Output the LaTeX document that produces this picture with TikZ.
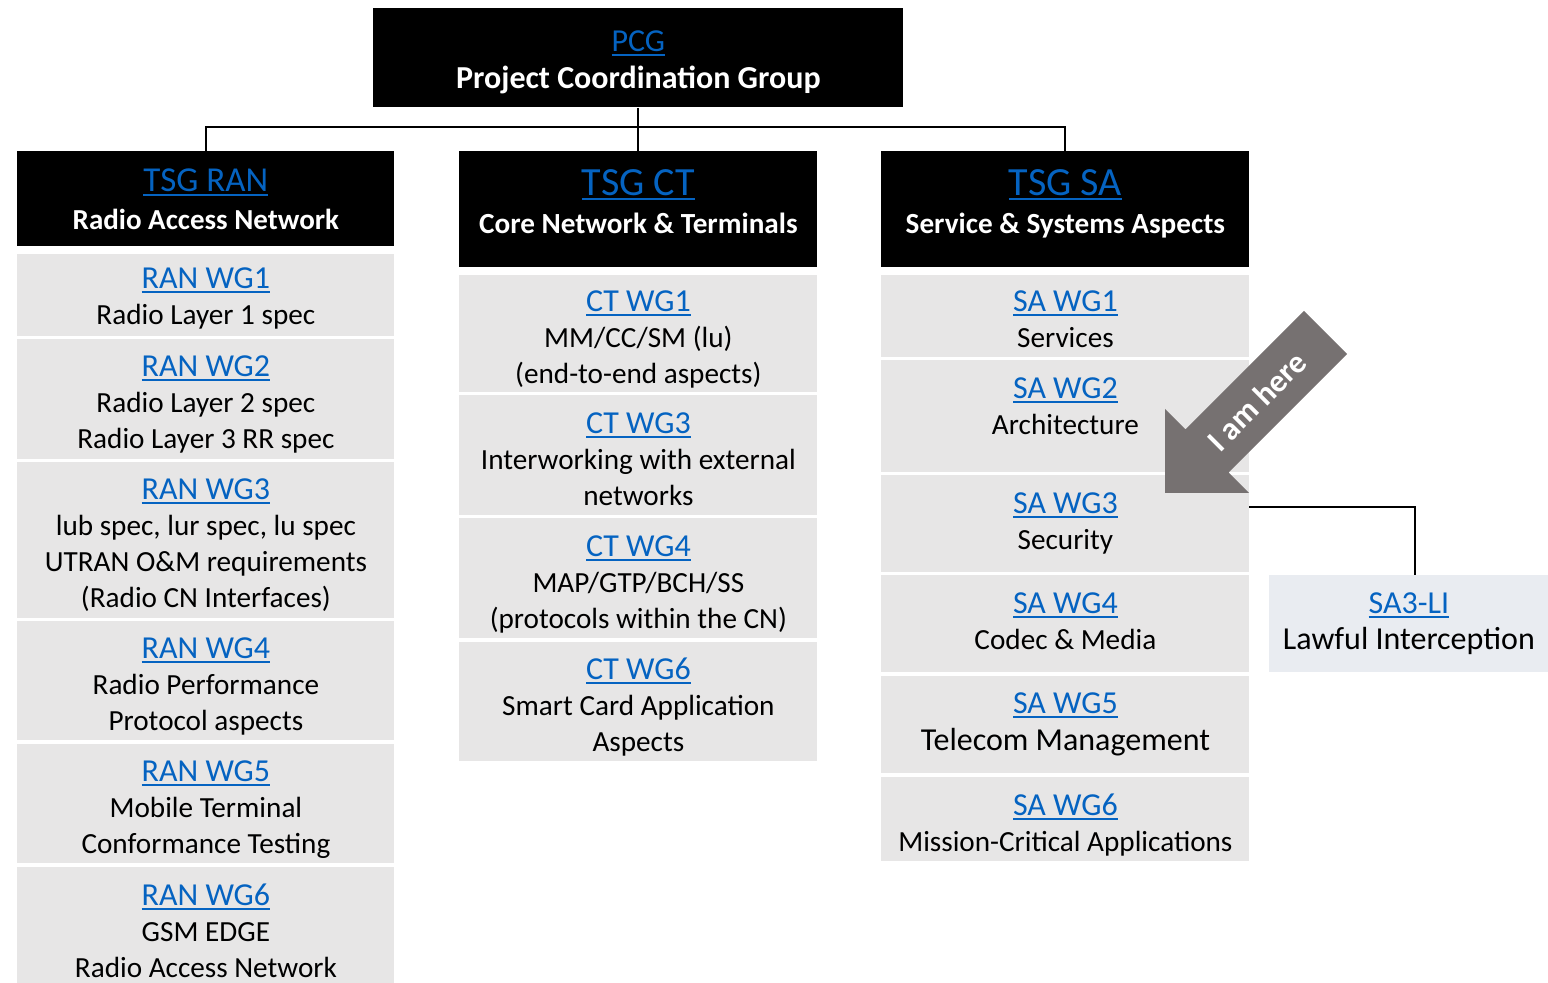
\documentclass[tikz,border=0pt]{standalone}
\usepackage{fontspec}
\setmainfont{Carlito}
\usetikzlibrary{positioning}

\definecolor{linkblue}{HTML}{0563C1}
\definecolor{cellgray}{HTML}{E7E6E6}
\definecolor{ligray}{HTML}{E9ECF1}
\definecolor{arrowgray}{HTML}{767171}
\newsavebox{\lnkbox}
\newcommand{\lnk}[1]{\textcolor{linkblue}{\sbox{\lnkbox}{#1}\rlap{\rule[-2.4pt]{\wd\lnkbox}{0.9pt}}\usebox{\lnkbox}}}

\begin{document}
\begin{tikzpicture}[x=0.5pt,y=-0.5pt]
  \tikzset{hdr/.style={fill=black,inner sep=0,anchor=north west},
           wg/.style={fill=cellgray,inner sep=0,anchor=north west},
           txt/.style={inner sep=0,align=center,font=\fontsize{14.6}{18}\selectfont},
           conn/.style={draw=black,line width=1pt}}
  \useasboundingbox (0,0) rectangle (1548,983);

  % PCG and the three TSGs
  \node[hdr,minimum width=265pt,minimum height=49.5pt] (pcg) at (373,8) {};
  \node[txt,font=\fontsize{16}{18.5}\selectfont,below=11pt of pcg.north] (pcgtxt)
      {\lnk{PCG}\\\textcolor{white}{\bfseries Project Coordination Group}};

  \node[hdr,minimum width=188.5pt,minimum height=47.5pt] (tsgran) at (17,151) {};
  \node[txt,font=\fontsize{14.5}{19}\selectfont,below=8.5pt of tsgran.north] (tsgrantxt)
      {{\fontsize{17.5}{19}\selectfont\lnk{TSG RAN}}\\\textcolor{white}{\bfseries Radio Access Network}};
  \node[hdr,minimum width=179pt,minimum height=58pt] (tsgct) at (459,151) {};
  \node[txt,font=\fontsize{14.6}{19}\selectfont,below=9pt of tsgct.north] (tsgcttxt)
      {{\fontsize{20}{19}\selectfont\lnk{TSG CT}}\\\textcolor{white}{\bfseries Core Network \& Terminals}};
  \node[hdr,minimum width=184pt,minimum height=58pt] (tsgsa) at (881,151) {};
  \node[txt,font=\fontsize{14.6}{19}\selectfont,below=9pt of tsgsa.north] (tsgsatxt)
      {{\fontsize{20}{19}\selectfont\lnk{TSG SA}}\\\textcolor{white}{\bfseries Service \& Systems Aspects}};

  \draw[conn] (pcg.south) -- (tsgct.north);
  \draw[conn] (tsgran.north) -- ++(0,-24) -| (tsgsa.north);

  % RAN working groups
  \node[wg,minimum width=188.5pt,minimum height=41pt] (ranwg1) at (17,254) {};
  \node[txt,below=6.5pt of ranwg1.north] (ranwg1txt) {{\fontsize{16}{18}\selectfont\lnk{RAN WG1}}\\Radio Layer 1 spec};
  \node[wg,minimum width=188.5pt,minimum height=60pt] (ranwg2) at (17,339) {};
  \node[txt,below=8pt of ranwg2.north] (ranwg2txt) {{\fontsize{16}{18}\selectfont\lnk{RAN WG2}}\\Radio Layer 2 spec\\Radio Layer 3 RR spec};
  \node[wg,minimum width=188.5pt,minimum height=78pt] (ranwg3) at (17,462) {};
  \node[txt,below=8pt of ranwg3.north] (ranwg3txt) {{\fontsize{16}{18}\selectfont\lnk{RAN WG3}}\\lub spec, lur spec, lu spec\\UTRAN O\&M requirements\\(Radio CN Interfaces)};
  \node[wg,minimum width=188.5pt,minimum height=59.5pt] (ranwg4) at (17,621) {};
  \node[txt,below=8pt of ranwg4.north] (ranwg4txt) {{\fontsize{16}{18}\selectfont\lnk{RAN WG4}}\\Radio Performance\\Protocol aspects};
  \node[wg,minimum width=188.5pt,minimum height=59.5pt] (ranwg5) at (17,744) {};
  \node[txt,below=8pt of ranwg5.north] (ranwg5txt) {{\fontsize{16}{18}\selectfont\lnk{RAN WG5}}\\Mobile Terminal\\Conformance Testing};
  \node[wg,minimum width=188.5pt,minimum height=58pt] (ranwg6) at (17,867) {};
  \node[txt,below=8pt of ranwg6.north] (ranwg6txt) {{\fontsize{16}{18}\selectfont\lnk{RAN WG6}}\\GSM EDGE\\Radio Access Network};

  % CT working groups
  \node[wg,minimum width=179pt,minimum height=58.5pt] (ctwg1) at (459,275) {};
  \node[txt,below=7.5pt of ctwg1.north] (ctwg1txt) {{\fontsize{16}{18}\selectfont\lnk{CT WG1}}\\MM/CC/SM (lu)\\(end-to-end aspects)};
  \node[wg,minimum width=179pt,minimum height=60pt] (ctwg3) at (459,395) {};
  \node[txt,below=8.5pt of ctwg3.north] (ctwg3txt) {{\fontsize{16}{18}\selectfont\lnk{CT WG3}}\\Interworking with external\\networks};
  \node[wg,minimum width=179pt,minimum height=60pt] (ctwg4) at (459,518) {};
  \node[txt,below=8.5pt of ctwg4.north] (ctwg4txt) {{\fontsize{16}{18}\selectfont\lnk{CT WG4}}\\MAP/GTP/BCH/SS\\(protocols within the CN)};
  \node[wg,minimum width=179pt,minimum height=59.5pt] (ctwg6) at (459,642) {};
  \node[txt,below=7.5pt of ctwg6.north] (ctwg6txt) {{\fontsize{16}{18}\selectfont\lnk{CT WG6}}\\Smart Card Application\\Aspects};

  % SA working groups
  \node[wg,minimum width=184pt,minimum height=41pt] (sawg1) at (881,275) {};
  \node[txt,below=7.5pt of sawg1.north] (sawg1txt) {{\fontsize{16}{18}\selectfont\lnk{SA WG1}}\\Services};
  \node[wg,minimum width=184pt,minimum height=56pt] (sawg2) at (881,360) {};
  \node[txt,below=8.5pt of sawg2.north] (sawg2txt) {{\fontsize{16}{18}\selectfont\lnk{SA WG2}}\\Architecture};
  \node[wg,minimum width=184pt,minimum height=48.5pt] (sawg3) at (881,475) {};
  \node[txt,below=8.5pt of sawg3.north] (sawg3txt) {{\fontsize{16}{18}\selectfont\lnk{SA WG3}}\\Security};
  \node[wg,minimum width=184pt,minimum height=48.5pt] (sawg4) at (881,575) {};
  \node[txt,below=8.5pt of sawg4.north] (sawg4txt) {{\fontsize{16}{18}\selectfont\lnk{SA WG4}}\\Codec \& Media};
  \node[wg,minimum width=184pt,minimum height=48.5pt] (sawg5) at (881,676) {};
  \node[txt,font=\fontsize{16}{18.5}\selectfont,below=8pt of sawg5.north] (sawg5txt) {\lnk{SA WG5}\\Telecom Management};
  \node[wg,minimum width=184pt,minimum height=42pt] (sawg6) at (881,777) {};
  \node[txt,below=8pt of sawg6.north] (sawg6txt) {{\fontsize{16}{18}\selectfont\lnk{SA WG6}}\\Mission-Critical Applications};

  % SA3-LI
  \node[wg,fill=ligray,minimum width=139.5pt,minimum height=48.5pt] (sali) at (1269,575) {};
  \node[txt,font=\fontsize{16}{18}\selectfont,below=8.5pt of sali.north] (salitxt) {\lnk{SA3-LI}\\Lawful Interception};
  \coordinate (saj) at (1249,507);
  \draw[conn] (saj) -| ([xshift=3pt]sali.north);

  % pointer
  \begin{scope}[shift={(1165,493)},rotate=45]
    \fill[arrowgray] (0,0) -- (59.5,59.5) -- (59.5,30.5) -- (227,30.5)
        -- (227,-30.5) -- (59.5,-30.5) -- (59.5,-59.5) -- cycle;
    \node[rotate=45,inner sep=0,text=white,font=\fontsize{16}{18}\bfseries] (here) at (130,0) {I am here};
  \end{scope}
\end{tikzpicture}
\end{document}
